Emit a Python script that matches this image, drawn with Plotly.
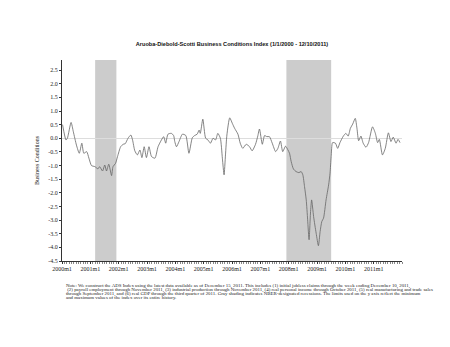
import plotly.graph_objects as go

# ---- data (decimal years, index values) ----
t = [2000.02, 2000.14, 2000.19, 2000.32, 2000.40, 2000.51, 2000.61, 2000.70, 2000.77, 2000.87, 2000.95,
     2001.04, 2001.16, 2001.27, 2001.33, 2001.43, 2001.51, 2001.57, 2001.65, 2001.75, 2001.80, 2001.89, 2001.96,
     2002.07, 2002.16, 2002.23, 2002.33, 2002.43, 2002.49, 2002.57, 2002.66, 2002.75, 2002.82, 2002.90, 2002.98,
     2003.07, 2003.16, 2003.28, 2003.39, 2003.51, 2003.59, 2003.66, 2003.74, 2003.86, 2003.94, 2003.98,
     2004.04, 2004.13, 2004.25, 2004.37, 2004.48, 2004.60, 2004.68, 2004.77, 2004.84, 2004.88, 2004.97,
     2005.07, 2005.15, 2005.24, 2005.33, 2005.42, 2005.50, 2005.59, 2005.66, 2005.72, 2005.77, 2005.82, 2005.92,
     2006.01, 2006.09, 2006.21, 2006.29, 2006.38, 2006.50, 2006.62, 2006.71, 2006.83, 2006.91, 2006.97,
     2007.07, 2007.15, 2007.23, 2007.32, 2007.42, 2007.54, 2007.62, 2007.71, 2007.79, 2007.89, 2007.97,
     2008.03, 2008.09, 2008.17, 2008.26, 2008.36, 2008.44, 2008.50, 2008.56, 2008.62, 2008.67, 2008.72,
     2008.77, 2008.81, 2008.88, 2008.97, 2009.05, 2009.11, 2009.17, 2009.23, 2009.32, 2009.41, 2009.46,
     2009.50, 2009.55, 2009.65, 2009.73, 2009.81, 2009.93,
     2010.02, 2010.10, 2010.18, 2010.26, 2010.35, 2010.41, 2010.47, 2010.55, 2010.63, 2010.73, 2010.82, 2010.96,
     2011.06, 2011.14, 2011.20, 2011.31, 2011.41, 2011.52, 2011.61, 2011.69, 2011.79, 2011.86, 2011.93]
ads = [0.50, -0.06, 0.00, 0.58, 0.24, -0.25, -0.55, -0.18, -0.55, -0.49, -0.73,
       -1.00, -1.04, -1.12, -1.04, -1.20, -0.98, -1.20, -0.95, -1.37, -1.04, -0.92, -0.67,
       -0.31, -0.22, -0.20, 0.00, 0.12, -0.06, -0.46, -0.61, -0.43, -0.71, -0.31, -0.71,
       -0.31, -0.67, -0.73, -0.31, -0.06, 0.06, -0.18, 0.15, 0.18, 0.10, -0.12,
       -0.31, -0.12, 0.15, 0.10, -0.55, 0.02, 0.10, 0.15, 0.30, 0.18, 0.70,
       0.00, -0.06, -0.18, 0.00, -0.06, 0.18, 0.00, -0.73, -1.34, -0.61, 0.12, 0.75,
       0.55, 0.37, 0.15, -0.18, -0.37, -0.22, -0.31, -0.46, -0.22, 0.08, 0.34,
       -0.22, 0.10, 0.06, 0.06, -0.18, -0.49, -0.37, -0.10, -0.49, -0.29, -0.42,
       -0.55, -0.86, -1.13, -1.22, -1.26, -1.22, -1.34, -1.77, -2.26, -2.99, -3.72,
       -2.74, -2.26, -2.87, -3.48, -3.94, -3.42, -3.05, -2.93, -2.26, -1.71, -1.28,
       -0.67, -0.16, -0.18, -0.37, -0.16, 0.08,
       0.18, 0.08, 0.37, 0.52, 0.73, 0.37, -0.09, 0.08, -0.18, -0.33, -0.16, 0.42,
       0.18, -0.16, -0.04, -0.61, -0.37, 0.20, -0.12, 0.04, -0.18, -0.04, -0.16]

recession_start = [2001.17, 2007.92]
recession_end = [2001.92, 2009.50]

x_tick_vals = [2000, 2001, 2002, 2003, 2004, 2005, 2006, 2007, 2008, 2009, 2010, 2011]
x_tick_text = ["2000m1", "2001m1", "2002m1", "2003m1", "2004m1", "2005m1", "2006m1",
               "2007m1", "2008m1", "2009m1", "2010m1", "2011m1"]
y_tick_vals = [2.5, 2.0, 1.5, 1.0, 0.5, 0.0, -0.5, -1.0, -1.5, -2.0, -2.5, -3.0, -3.5, -4.0, -4.5]
y_tick_text = ["2.5", "2.0", "1.5", "1.0", "0.5", "0.0", "-0.5", "-1.0", "-1.5", "-2.0",
               "-2.5", "-3.0", "-3.5", "-4.0", "-4.5"]

title_text = "Aruoba-Diebold-Scotti Business Conditions Index (1/1/2000 - 12/10/2011)"
note_lines = [
    "Note: We construct the ADS Index using the latest data available as of December 15, 2011. This includes (1) initial jobless claims through the week ending December 10, 2011,",
    " (2) payroll employment through November 2011, (3) industrial production through November 2011, (4) real personal income through October 2011, (5) real manufacturing and trade sales",
    "through September 2011, and (6) real GDP through the third quarter of 2011. Gray shading indicates NBER-designated recessions. The limits used on the y axis reflect the minimum",
    "and maximum values of the index over its entire history.",
]

W, H = 450, 347
L, R, T, B = 62, 48, 60, 86

fig = go.Figure()
fig.add_trace(go.Scatter(x=t, y=ads, mode="lines",
                         line=dict(color="#666666", width=0.8, shape="spline", smoothing=0.6),
                         hoverinfo="skip", showlegend=False))

for s, e in zip(recession_start, recession_end):
    fig.add_shape(type="rect", xref="x", yref="paper", x0=s, x1=e, y0=0, y1=1,
                  fillcolor="#cccccc", line=dict(width=0), layer="below")

serif = "Liberation Serif, Times New Roman, serif"

fig.update_layout(
    width=W, height=H,
    margin=dict(l=L, r=R, t=T, b=B),
    paper_bgcolor="white", plot_bgcolor="white",
    title=dict(text="<b>" + title_text + "</b>", x=(L + (W - R)) / 2 / W, xanchor="center",
               y=1 - 44 / H, yanchor="middle", yref="container",
               font=dict(family="Liberation Sans, Arial, sans-serif", size=5.6, color="#111111")),
    xaxis=dict(range=[2000, 2012], tickvals=x_tick_vals, ticktext=x_tick_text,
               showgrid=False, zeroline=False, showline=True, linecolor="#333333", linewidth=1,
               ticks="outside", ticklen=2, tickcolor="#333333",
               minor=dict(dtick=1 / 12, tick0=2000, ticks="outside", ticklen=1.5, tickcolor="#888888"),
               tickfont=dict(family=serif, size=6, color="#222222")),
    yaxis=dict(range=[-4.5, 2.87], tickvals=y_tick_vals, ticktext=y_tick_text,
               showgrid=False, zeroline=True, zerolinecolor="#dddddd", zerolinewidth=1,
               showline=True, linecolor="#333333", linewidth=1,
               ticks="outside", ticklen=2, tickcolor="#333333",
               tickfont=dict(family=serif, size=6, color="#222222"),
               title=dict(text="Business Conditions", standoff=8,
                          font=dict(family=serif, size=6, color="#222222"))),
)

for i, line in enumerate(note_lines):
    fig.add_annotation(text=line, xref="paper", yref="paper",
                       x=(64 - L) / (W - L - R), y=1 - (285.7 + 4 * i - T) / (H - T - B),
                       xanchor="left", yanchor="middle", showarrow=False,
                       font=dict(family=serif, size=4.9, color="#222222"))

fig.write_html("out.html")
